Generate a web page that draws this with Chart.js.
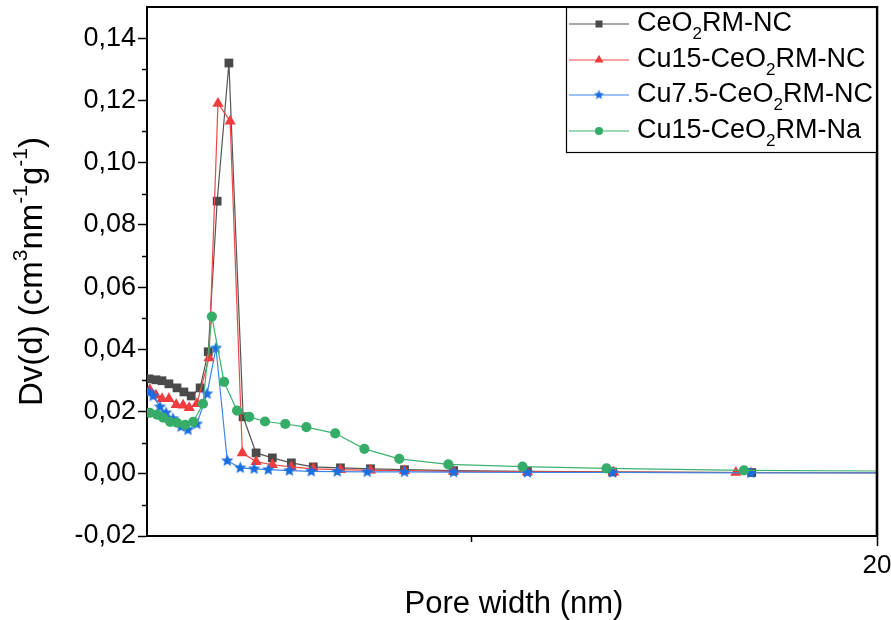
<!DOCTYPE html>
<html>
<head>
<meta charset="utf-8">
<script src="https://cdn.jsdelivr.net/npm/chart.js@4/dist/chart.umd.min.js"></script>
<style>
  html, body { margin: 0; padding: 0; background: #fff; }
  #wrap { width: 891px; height: 620px; }
</style>
</head>
<body>
<div id="wrap"><canvas id="ch1" width="891" height="620"></canvas></div>
<script>
'use strict';

// ---- data (pore width nm / Dv(d)) ----
const ceoX = [2.05, 2.22, 2.37, 2.54, 2.74, 2.91, 3.09, 3.31, 3.51, 3.73, 4.02, 4.37, 4.69, 5.09, 5.56, 6.10, 6.77, 7.51, 8.35, 9.56, 11.38, 13.48, 16.91, 24.5];
const ceoY = [0.0305, 0.0302, 0.0299, 0.0289, 0.0276, 0.0263, 0.0250, 0.0276, 0.0392, 0.0876, 0.1320, 0.0183, 0.0067, 0.0051, 0.0035, 0.0022, 0.0019, 0.0016, 0.0013, 0.0010, 0.0008, 0.0006, 0.0004, 0.0003];

const cu15X = [2.07, 2.22, 2.37, 2.54, 2.72, 2.89, 3.04, 3.23, 3.53, 3.75, 4.05, 4.35, 4.69, 5.09, 5.56, 6.10, 6.77, 7.51, 8.35, 9.56, 11.38, 13.51, 16.52, 24.5];
const cu15Y = [0.0270, 0.0252, 0.0241, 0.0241, 0.0222, 0.0220, 0.0212, 0.0225, 0.0372, 0.1190, 0.1133, 0.0067, 0.0039, 0.0029, 0.0022, 0.0016, 0.0013, 0.0011, 0.0010, 0.0008, 0.0006, 0.0005, 0.0004, 0.0003];

const cu75X = [2.05, 2.15, 2.32, 2.47, 2.64, 2.84, 3.01, 3.23, 3.48, 3.70, 3.98, 4.30, 4.64, 4.99, 5.51, 6.05, 6.69, 7.43, 8.35, 9.56, 11.38, 13.48, 16.89, 24.5];
const cu75Y = [0.0262, 0.0250, 0.0215, 0.0196, 0.0177, 0.0151, 0.0141, 0.0160, 0.0257, 0.0404, 0.0042, 0.0019, 0.0016, 0.0013, 0.0010, 0.0008, 0.0007, 0.0006, 0.0006, 0.0005, 0.0004, 0.0004, 0.0003, 0.0003];

const naX = [2.07, 2.25, 2.40, 2.57, 2.74, 2.94, 3.14, 3.38, 3.60, 3.90, 4.22, 4.52, 4.91, 5.41, 5.93, 6.64, 7.36, 8.22, 9.43, 11.26, 13.33, 16.72, 24.5];
const naY = [0.0196, 0.0190, 0.0180, 0.0167, 0.0164, 0.0157, 0.0167, 0.0225, 0.0505, 0.0295, 0.0203, 0.0183, 0.0168, 0.0160, 0.0150, 0.0130, 0.0080, 0.0048, 0.0030, 0.0023, 0.0017, 0.0011, 0.0006];

const xTicks = [10, 20];
const xTickLabels = ['', '20'];
const xMinor = [10];
const yTicks = [-0.02, 0, 0.02, 0.04, 0.06, 0.08, 0.10, 0.12, 0.14];
const yTickLabels = ['-0,02', '0,00', '0,02', '0,04', '0,06', '0,08', '0,10', '0,12', '0,14'];
const yMinor = [-0.01, 0.01, 0.03, 0.05, 0.07, 0.09, 0.11, 0.13];

// legend labels: [text, 0 normal | -1 subscript | 1 superscript]
const seriesNames = [
  [['CeO', 0], ['2', -1], ['RM-NC', 0]],
  [['Cu15-CeO', 0], ['2', -1], ['RM-NC', 0]],
  [['Cu7.5-CeO', 0], ['2', -1], ['RM-NC', 0]],
  [['Cu15-CeO', 0], ['2', -1], ['RM-Na', 0]]
];
const yTitle = [['Dv(d) (cm', 0], ['3', 1], ['nm', 0], ['-1', 1], ['g', 0], ['-1', 1], [')', 0]];
const xTitle = 'Pore width (nm)';

const FONT = '"Liberation Sans", Arial, sans-serif';

function pts(xs, ys) { return xs.map((x, i) => ({ x: x, y: ys[i] })); }

function makeStar(r, color) {
  const c = document.createElement('canvas');
  const s = Math.ceil(r * 2 + 2);
  c.width = s; c.height = s;
  const g = c.getContext('2d');
  g.fillStyle = color;
  g.beginPath();
  for (let i = 0; i < 10; i++) {
    const rr = i % 2 ? r * 0.45 : r;
    const a = -Math.PI / 2 + i * Math.PI / 5;
    const px = s / 2 + rr * Math.cos(a), py = s / 2 + rr * Math.sin(a);
    i ? g.lineTo(px, py) : g.moveTo(px, py);
  }
  g.closePath();
  g.fill();
  return c;
}

const starImg = makeStar(6.5, '#1a6ee0');
const starSmall = makeStar(5.2, '#1a6ee0');

const series = [
  { line: '#555555', fill: '#4a4a4a', style: 'rect', r: 6.2, lg: 'rect', order: 4 },
  { line: '#f04848', fill: '#f03c3c', style: 'triangle', r: 6.5, lg: 'triangle', order: 3 },
  { line: '#3a86e8', fill: '#1a6ee0', style: starImg, r: 6.5, lg: starSmall, order: 2 },
  { line: '#3cb371', fill: '#35ad68', style: 'circle', r: 5.1, lg: 'circle', order: 1 }
];
const seriesData = [pts(ceoX, ceoY), pts(cu15X, cu15Y), pts(cu75X, cu75Y), pts(naX, naY)];

function drawRich(ctx, parts, x, y, size, align) {
  const small = Math.round(size * 0.64);
  let w = 0;
  parts.forEach(p => {
    ctx.font = (p[1] ? small : size) + 'px ' + FONT;
    w += ctx.measureText(p[0]).width;
  });
  let cx = align === 'center' ? x - w / 2 : x;
  ctx.textAlign = 'left';
  ctx.textBaseline = 'middle';
  parts.forEach(p => {
    ctx.font = (p[1] ? small : size) + 'px ' + FONT;
    const dy = p[1] === -1 ? size * 0.38 : (p[1] === 1 ? -size * 0.36 : 0);
    ctx.fillText(p[0], cx, y + dy);
    cx += ctx.measureText(p[0]).width;
  });
}

const framePlugin = {
  id: 'frame',
  afterDraw(chart) {
    const ctx = chart.ctx, a = chart.chartArea;
    const xs = chart.scales.x, ys = chart.scales.y;
    ctx.save();
    ctx.strokeStyle = '#000';
    // top and right border
    ctx.lineWidth = 1.8;
    ctx.beginPath(); ctx.moveTo(a.left - 1, a.top); ctx.lineTo(a.right, a.top); ctx.stroke();
    ctx.lineWidth = 2.6;
    ctx.beginPath(); ctx.moveTo(a.right, a.top - 1); ctx.lineTo(a.right, a.bottom + 1); ctx.stroke();
    // minor ticks
    ctx.lineWidth = 1.5;
    yMinor.forEach(v => {
      const py = Math.round(ys.getPixelForValue(v)) + 0.5;
      ctx.beginPath(); ctx.moveTo(a.left - 5, py); ctx.lineTo(a.left, py); ctx.stroke();
    });
    xMinor.forEach(v => {
      const px = Math.round(xs.getPixelForValue(v)) + 0.5;
      ctx.beginPath(); ctx.moveTo(px, a.bottom); ctx.lineTo(px, a.bottom + 6); ctx.stroke();
    });

    // axis titles
    ctx.fillStyle = '#000';
    ctx.font = '31px ' + FONT;
    ctx.textAlign = 'center';
    ctx.textBaseline = 'middle';
    ctx.fillText(xTitle, (a.left + a.right) / 2 + 2, 604);
    ctx.save();
    ctx.translate(33, (a.top + a.bottom) / 2);
    ctx.rotate(-Math.PI / 2);
    drawRich(ctx, yTitle, 0, 0, 33, 'center');
    ctx.restore();

    // legend box
    const bx = 566, by = a.top, bw = a.right - 566, bh = 146;
    ctx.fillStyle = '#fff';
    ctx.fillRect(bx, by, bw, bh);
    ctx.lineWidth = 1.2;
    ctx.strokeStyle = '#000';
    ctx.strokeRect(bx + 0.5, by + 0.5, bw - 1, bh - 1);
    const rowY = [24, 60, 95, 131];
    series.forEach((s, i) => {
      const ry = rowY[i];
      ctx.strokeStyle = s.line;
      ctx.lineWidth = 1.2;
      ctx.beginPath(); ctx.moveTo(569, ry); ctx.lineTo(629, ry); ctx.stroke();
      ctx.fillStyle = s.fill;
      Chart.helpers.drawPoint(ctx, { pointStyle: s.lg, radius: s.r * 0.8, rotation: 0, borderWidth: 0 }, 599, ry);
      ctx.fillStyle = '#000';
      drawRich(ctx, seriesNames[i], 637, ry, 27, 'left');
    });
    ctx.restore();
  }
};

new Chart(document.getElementById('ch1').getContext('2d'), {
  type: 'line',
  data: {
    datasets: series.map((s, i) => ({
      label: seriesNames[i].map(p => p[0]).join(''),
      data: seriesData[i],
      borderColor: s.line,
      borderWidth: 1.2,
      backgroundColor: s.fill,
      pointBackgroundColor: s.fill,
      pointBorderWidth: 0,
      pointBorderColor: s.fill,
      pointStyle: s.style,
      pointRadius: s.r,
      tension: 0,
      order: s.order
    }))
  },
  options: {
    responsive: false,
    animation: false,
    devicePixelRatio: 1,
    layout: { padding: { top: 7, right: 14, left: 0, bottom: 0 } },
    plugins: { legend: { display: false }, tooltip: { enabled: false } },
    scales: {
      x: {
        type: 'linear', min: 2, max: 20,
        afterBuildTicks: s => { s.ticks = xTicks.map(v => ({ value: v })); },
        afterFit: s => { s.height = 84; s.paddingLeft = 0; s.paddingRight = 0; },
        ticks: { autoSkip: false, maxRotation: 0, padding: 4, color: '#000', font: { family: FONT, size: 26 },
          callback: (v, i) => xTickLabels[i] },
        grid: { drawOnChartArea: false, tickLength: 10, tickWidth: 1.5,
          tickColor: c => (c.tick && c.tick.value === 20) ? '#000' : 'rgba(0,0,0,0)' },
        border: { color: '#000', width: 2 }
      },
      y: {
        type: 'linear', min: -0.02, max: 0.15,
        afterBuildTicks: s => { s.ticks = yTicks.map(v => ({ value: v })); },
        afterFit: s => { s.width = 147; s.paddingTop = 0; s.paddingBottom = 0; },
        ticks: { autoSkip: false, padding: 2, color: '#000', font: { family: FONT, size: 27 },
          callback: (v, i) => yTickLabels[i] },
        grid: { drawOnChartArea: false, tickLength: 9, tickWidth: 1.5, tickColor: '#000' },
        border: { color: '#000', width: 2 }
      }
    }
  },
  plugins: [framePlugin]
});
</script>
</body>
</html>
